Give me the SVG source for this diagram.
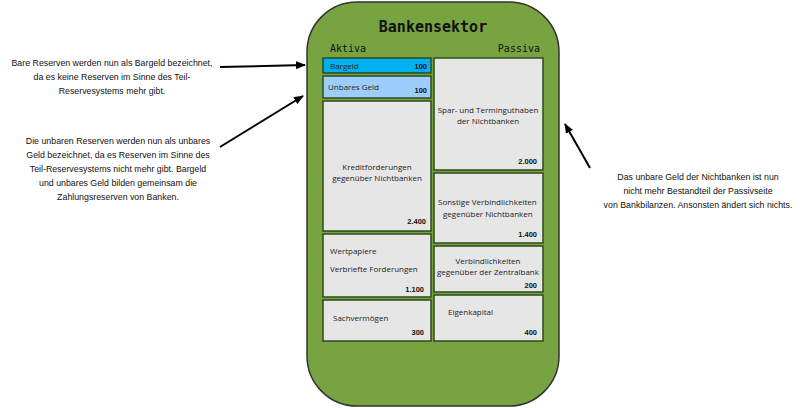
<svg xmlns="http://www.w3.org/2000/svg" width="800" height="408" viewBox="0 0 800 408">
<style>
.t{font-family:"Open Sans","DejaVu Sans",sans-serif;font-size:8px;fill:#222}
.n{font-family:"Liberation Sans",sans-serif;font-size:7.5px;font-weight:bold;fill:#111;text-anchor:end}
.m{font-family:"Liberation Sans",sans-serif;font-size:8.8px;fill:#111;text-anchor:middle}
.h{font-family:"DejaVu Sans Mono",monospace;fill:#111}
.b{fill:#e6e6e6;stroke:#2f4a1e;stroke-width:1.5}
</style>
<defs><marker id="a" markerWidth="10" markerHeight="8" refX="9" refY="4" orient="auto" markerUnits="userSpaceOnUse"><path d="M0,0L10,4L0,8z" fill="#000"/></marker></defs>
<rect x="307" y="2" width="252" height="404" rx="50" fill="#77a441" stroke="#333" stroke-width="1.5"/>
<text class="h" x="433" y="32" font-size="15" font-weight="bold" text-anchor="middle">Bankensektor</text>
<text class="h" x="330" y="52" font-size="10">Aktiva</text>
<text class="h" x="540" y="52" font-size="10" text-anchor="end">Passiva</text>
<g id="bargeld"><rect x="323" y="58" width="108" height="15" fill="#00b0f0" stroke="#2f4a1e" stroke-width="1.5"/><text class="t" x="330" y="69">Bargeld</text><text class="n" x="427" y="69">100</text></g>
<g id="unbares"><rect x="323" y="76" width="108" height="22" fill="#9dcdfb" stroke="#2f4a1e" stroke-width="1.5"/><text class="t" x="328" y="90">Unbares Geld</text><text class="n" x="427" y="93">100</text></g>
<g id="kredit"><rect class="b" x="323" y="101" width="108" height="130"/><text class="t" x="377" y="170" text-anchor="middle">Kreditforderungen</text><text class="t" x="377" y="181" text-anchor="middle">gegenüber Nichtbanken</text><text class="n" x="426" y="224">2.400</text></g>
<g id="wertpapiere"><rect class="b" x="323" y="234" width="108" height="63"/><text class="t" x="330" y="254">Wertpapiere</text><text class="t" x="330" y="272">Verbriefte Forderungen</text><text class="n" x="424" y="292">1.100</text></g>
<g id="sach"><rect class="b" x="323" y="300" width="108" height="41"/><text class="t" x="333" y="321">Sachvermögen</text><text class="n" x="424" y="335">300</text></g>
<g id="spar"><rect class="b" x="434" y="58" width="109" height="112"/><text class="t" x="488" y="113" text-anchor="middle">Spar- und Terminguthaben</text><text class="t" x="488" y="124" text-anchor="middle">der Nichtbanken</text><text class="n" x="537" y="164">2.000</text></g>
<g id="sonstige"><rect class="b" x="434" y="173" width="109" height="70"/><text class="t" x="438" y="205">Sonstige Verbindlichkeiten</text><text class="t" x="443" y="217">gegenüber Nichtbanken</text><text class="n" x="537" y="237">1.400</text></g>
<g id="zentral"><rect class="b" x="434" y="246" width="109" height="46"/><text class="t" x="488" y="264" text-anchor="middle">Verbindlichkeiten</text><text class="t" x="488" y="275" text-anchor="middle">gegenüber der Zentralbank</text><text class="n" x="537" y="288">200</text></g>
<g id="eigen"><rect class="b" x="434" y="295" width="109" height="46"/><text class="t" x="448" y="315">Eigenkapital</text><text class="n" x="537" y="335">400</text></g>
<g id="notes">
<text class="m" x="112" y="66">Bare Reserven werden nun als Bargeld bezeichnet,</text>
<text class="m" x="112" y="80">da es keine Reserven im Sinne des Teil-</text>
<text class="m" x="112" y="94">Reservesystems mehr gibt.</text>
<text class="m" x="118" y="144">Die unbaren Reserven werden nun als unbares</text>
<text class="m" x="118" y="158">Geld bezeichnet, da es Reserven im Sinne des</text>
<text class="m" x="118" y="172">Teil-Reservesystems nicht mehr gibt. Bargeld</text>
<text class="m" x="118" y="186">und unbares Geld bilden gemeinsam die</text>
<text class="m" x="118" y="200">Zahlungsreserven von Banken.</text>
<text class="m" x="698" y="180">Das unbare Geld der Nichtbanken ist nun</text>
<text class="m" x="698" y="194">nicht mehr Bestandteil der Passivseite</text>
<text class="m" x="698" y="208">von Bankbilanzen. Ansonsten ändert sich nichts.</text>
</g>
<g id="connectors" stroke="#000" stroke-width="2" fill="none">
<line x1="220" y1="67" x2="305" y2="65" marker-end="url(#a)"/>
<line x1="220" y1="147" x2="303" y2="96" marker-end="url(#a)"/>
<line x1="590" y1="168" x2="565" y2="124" marker-end="url(#a)"/>
</g>
</svg>
